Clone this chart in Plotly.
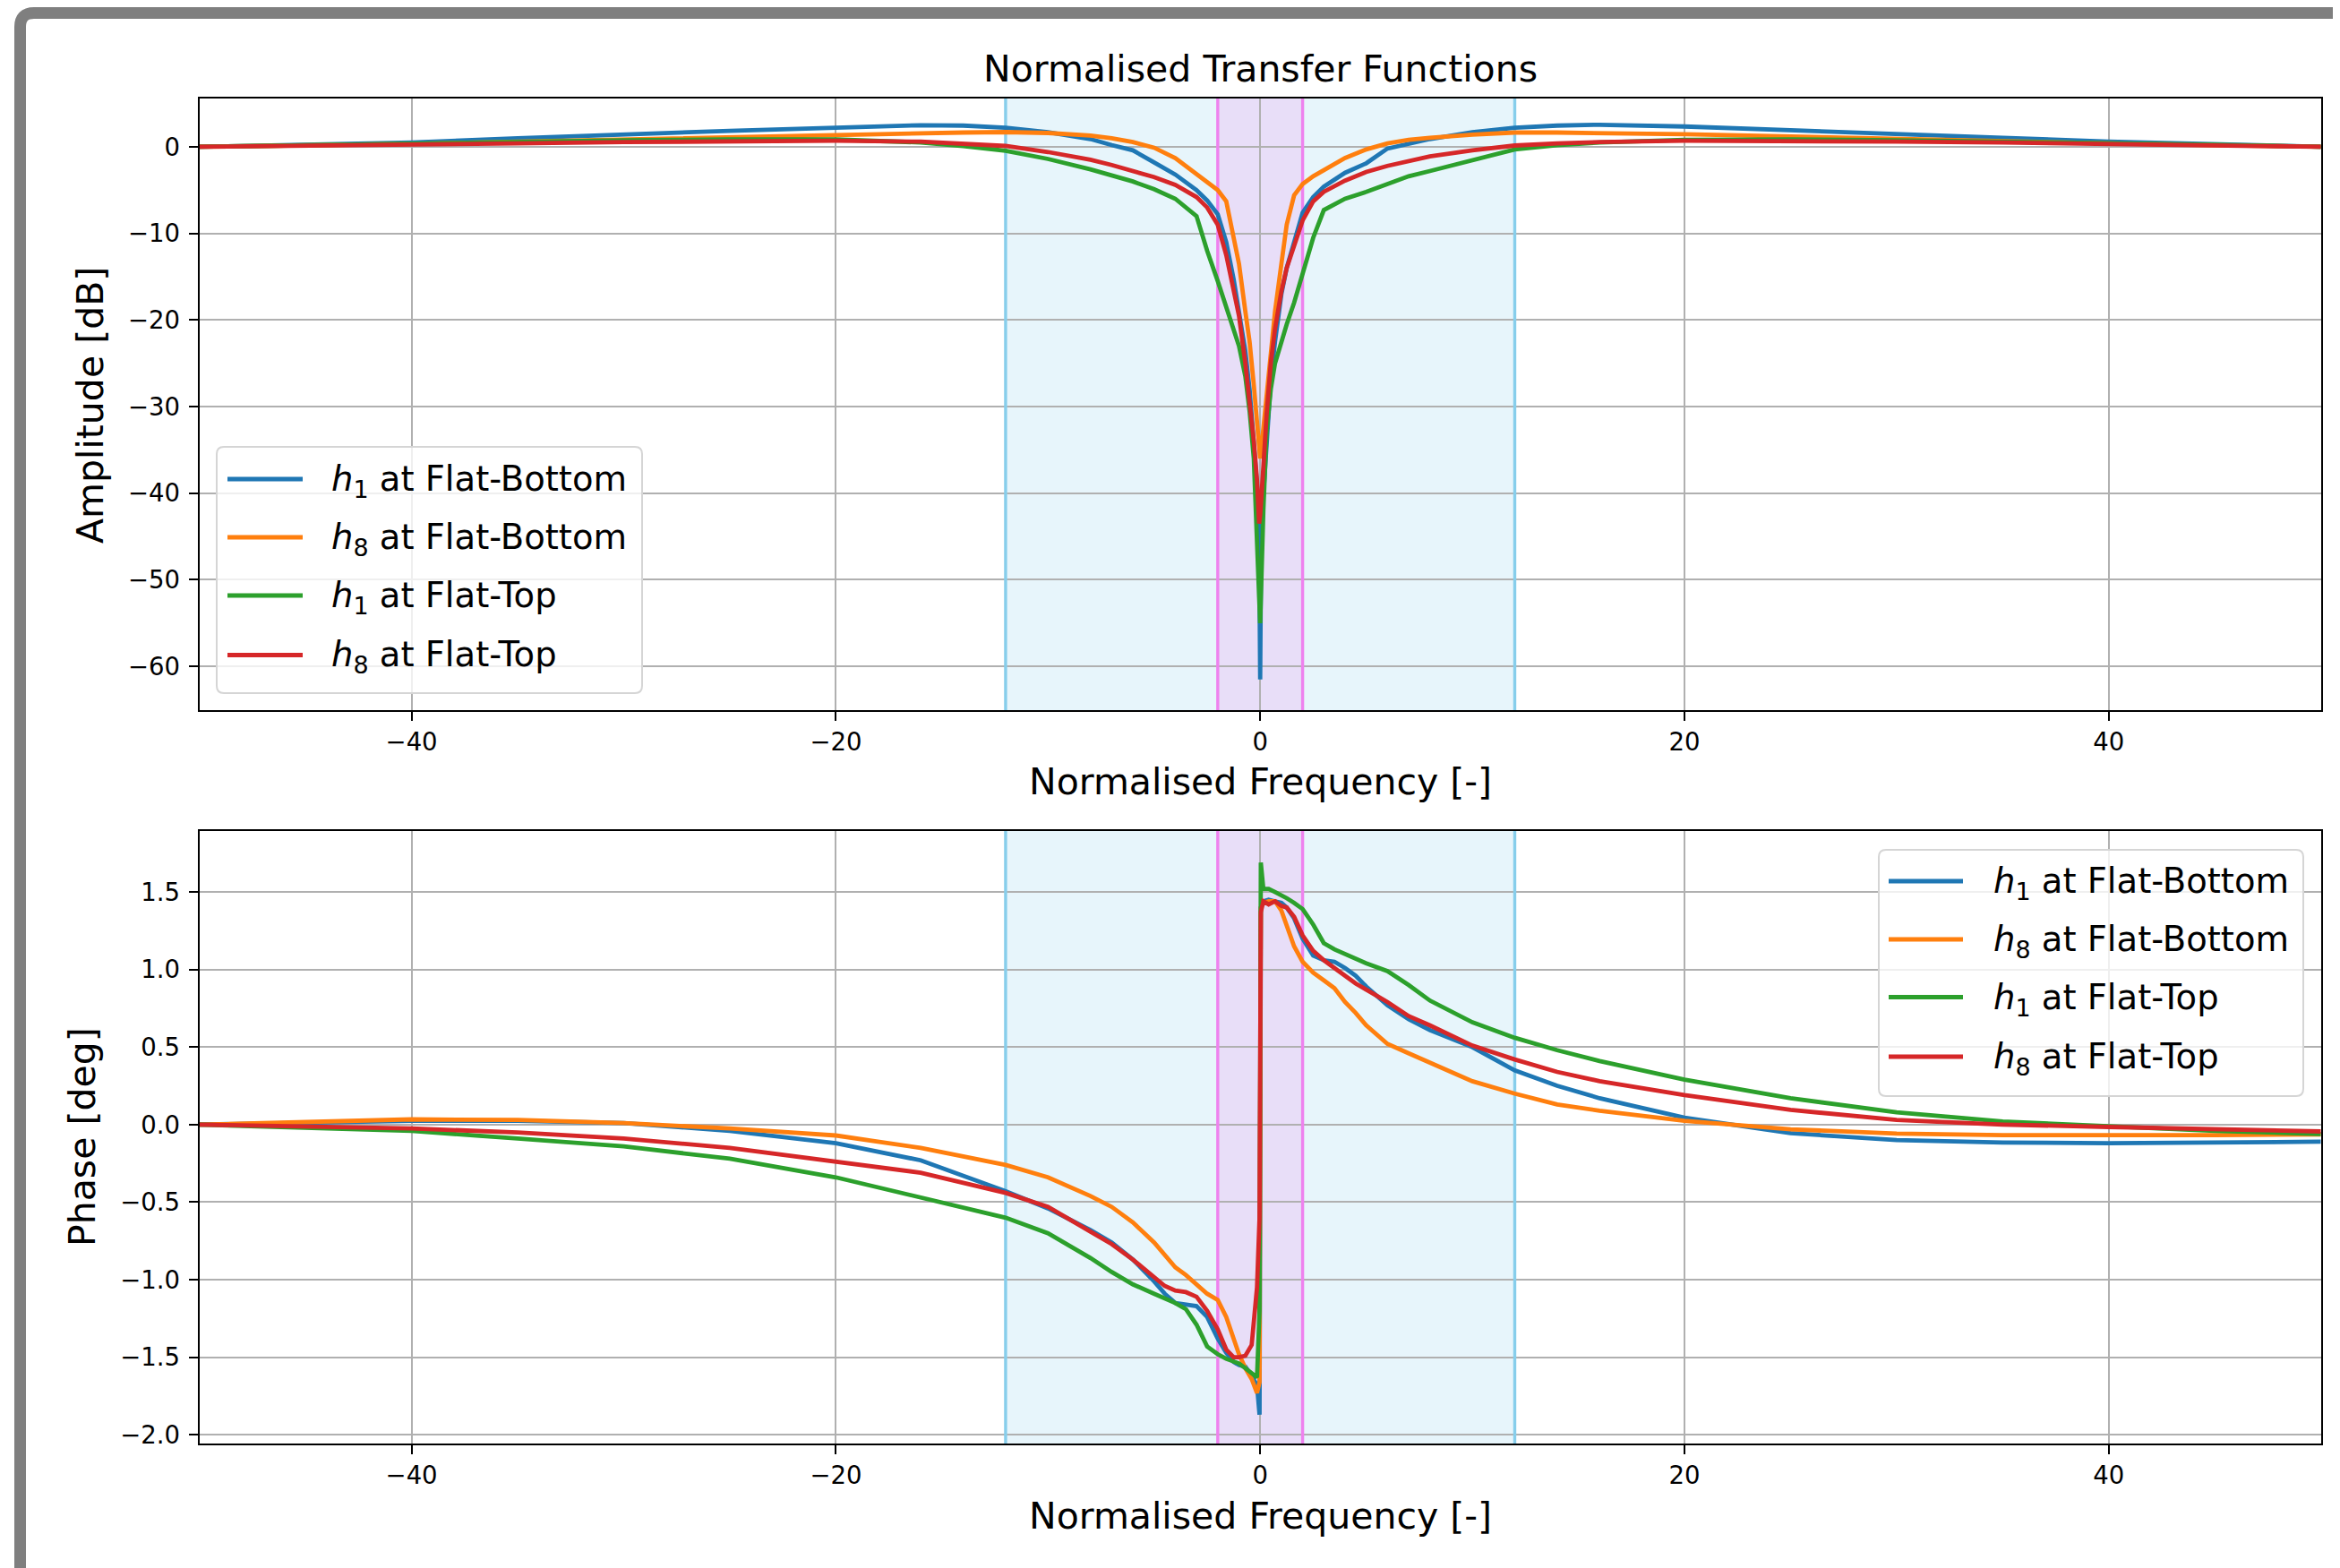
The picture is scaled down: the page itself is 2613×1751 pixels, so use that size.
import plotly.graph_objects as go

OFF = 8                      # default page margin of the html body
W, H = 2613 - OFF, 1751 - OFF
FONT = "DejaVu Sans"


def px(x):
    return (x - OFF) / W


def py(y):
    return 1 - (y - OFF) / H


# ---------------- data ----------------
x_amp = [-50, -45, -40, -35, -30, -25, -20, -16, -14, -12, -10, -8, -7, -6, -5, -4, -3,
         -2.5, -2, -1.6, -1.25, -1, -0.7, -0.5, -0.3, -0.15, -0.05, 0, 0.05, 0.15, 0.3,
         0.5, 0.7, 1, 1.25, 1.6, 2, 2.5, 3, 4, 5, 6, 7, 8, 10, 12, 14, 16, 20, 25, 30,
         35, 40, 45, 50]

amp_h1_fb = [0.0, 0.2, 0.5, 1.0, 1.45, 1.85, 2.2, 2.5, 2.45, 2.2, 1.7, 0.9, 0.2, -0.4,
             -1.8, -3.2, -5.0, -6.2, -7.8, -11.0, -15.3, -19.0, -23.6, -28.0, -33.5,
             -39.0, -45.0, -61.5, -44.0, -40.0, -34.0, -27.0, -22.5, -17.0, -14.0, -11.0,
             -7.6, -5.8, -4.6, -3.0, -1.9, -0.2, 0.35, 0.9, 1.7, 2.2, 2.45, 2.55, 2.35,
             1.95, 1.5, 1.05, 0.6, 0.25, 0.0]
amp_h8_fb = [0.0, 0.15, 0.35, 0.6, 0.85, 1.15, 1.45, 1.6, 1.65, 1.7, 1.6, 1.3, 1.0, 0.55,
             -0.1, -1.3, -3.2, -4.2, -5.0, -6.3, -10.5, -13.5, -19.0, -22.5, -27.5, -32.0,
             -35.0, -36.0, -35.0, -32.5, -28.5, -23.5, -19.0, -13.5, -9.0, -5.6, -4.3,
             -3.4, -2.7, -1.3, -0.3, 0.4, 0.8, 1.05, 1.4, 1.65, 1.65, 1.6, 1.45, 1.2, 0.9,
             0.65, 0.4, 0.2, 0.0]
amp_h1_ft = [0.0, 0.2, 0.4, 0.6, 0.75, 0.85, 0.85, 0.5, 0.1, -0.45, -1.4, -2.6, -3.3, -4.0,
             -4.9, -6.0, -8.0, -12.0, -15.5, -18.5, -21.0, -23.0, -26.5, -30.5, -36.0,
             -44.0, -52.0, -55.0, -49.0, -42.0, -33.0, -28.0, -25.0, -22.5, -20.5, -18.0,
             -14.8, -10.5, -7.3, -6.0, -5.2, -4.3, -3.4, -2.8, -1.5, -0.3, 0.2, 0.5, 0.8,
             0.85, 0.75, 0.6, 0.45, 0.25, 0.0]
amp_h8_ft = [0.0, 0.1, 0.25, 0.4, 0.55, 0.65, 0.7, 0.6, 0.35, 0.1, -0.6, -1.5, -2.1, -2.8,
             -3.5, -4.4, -5.8, -7.0, -9.0, -12.5, -16.5, -19.5, -25.0, -29.0, -34.0, -38.5,
             -43.5, -42.5, -40.0, -37.0, -31.0, -25.0, -21.0, -16.7, -14.0, -11.5, -8.5,
             -6.3, -5.2, -3.9, -2.9, -2.2, -1.6, -1.1, -0.4, 0.15, 0.4, 0.55, 0.7, 0.7, 0.6,
             0.5, 0.35, 0.15, 0.0]

x_phase = [-50, -45, -40, -35, -30, -25, -20, -16, -12, -10, -8, -7, -6, -5, -4.5, -4,
           -3.5, -3, -2.5, -2, -1.6, -1.25, -1, -0.7, -0.4, -0.15, -0.03, 0.03, 0.15, 0.4,
           0.7, 1, 1.25, 1.6, 2, 2.5, 3, 3.5, 4, 4.5, 5, 6, 7, 8, 10, 12, 14, 16, 20, 25,
           30, 35, 40, 45, 50]

ph_h1_fb = [0.00, 0.015, 0.025, 0.025, 0.01, -0.04, -0.12,
            -0.23, -0.43, -0.54, -0.68, -0.76, -0.87, -1.01,
            -1.09, -1.15, -1.16, -1.17, -1.24, -1.38,
            -1.47, -1.53, -1.55, -1.56, -1.62, -1.68, -1.87,
            1.40, 1.44, 1.45, 1.44, 1.43, 1.40, 1.33, 1.20,
            1.09, 1.06, 1.05, 1.01, 0.96, 0.89, 0.77, 0.68, 0.61,
            0.50, 0.35, 0.25, 0.17,
            0.045, -0.055, -0.10, -0.115, -0.12, -0.115, -0.11]
ph_h8_fb = [0.00, 0.02, 0.034, 0.03, 0.01, -0.025, -0.07,
            -0.15, -0.26, -0.34, -0.46, -0.53, -0.63, -0.76,
            -0.84, -0.92, -0.97, -1.03, -1.09, -1.13,
            -1.24, -1.38, -1.48, -1.57, -1.64, -1.73, -1.66,
            1.40, 1.43, 1.44, 1.44, 1.38, 1.28, 1.15, 1.05,
            0.98, 0.93, 0.88, 0.79, 0.72, 0.64, 0.52, 0.46, 0.40,
            0.28, 0.20, 0.13, 0.09,
            0.024, -0.03, -0.058, -0.068, -0.07, -0.068, -0.063]
ph_h1_ft = [0.00, -0.02, -0.04, -0.09, -0.14, -0.22, -0.34,
            -0.47, -0.60, -0.70, -0.86, -0.95, -1.03, -1.09,
            -1.12, -1.15, -1.19, -1.29, -1.43, -1.48,
            -1.51, -1.53, -1.54, -1.57, -1.60, -1.63, -1.20,
            1.69, 1.52, 1.52, 1.50, 1.48, 1.46, 1.43, 1.39,
            1.29, 1.17, 1.13, 1.10, 1.07, 1.04, 0.99, 0.90, 0.80,
            0.66, 0.56, 0.48, 0.41,
            0.29, 0.17, 0.08, 0.02, -0.01, -0.04, -0.06]
ph_h8_ft = [0.00, -0.01, -0.025, -0.05, -0.09, -0.15, -0.235,
            -0.31, -0.44, -0.53, -0.69, -0.77, -0.87, -0.98,
            -1.04, -1.07, -1.08, -1.11, -1.20, -1.32,
            -1.45, -1.50, -1.50, -1.49, -1.42, -1.05, -0.60,
            1.37, 1.44, 1.42, 1.44, 1.41, 1.40, 1.34, 1.22,
            1.12, 1.06, 1.01, 0.96, 0.91, 0.87, 0.79, 0.70, 0.64,
            0.51, 0.42, 0.34, 0.28,
            0.19, 0.095, 0.03, 0.0, -0.015, -0.03, -0.044]

series_names = ["<i>h</i><sub>1</sub> at Flat-Bottom",
                "<i>h</i><sub>8</sub> at Flat-Bottom",
                "<i>h</i><sub>1</sub> at Flat-Top",
                "<i>h</i><sub>8</sub> at Flat-Top"]
colors = ["#1f77b4", "#ff7f0e", "#2ca02c", "#d62728"]

amp_series = [amp_h1_fb, amp_h8_fb, amp_h1_ft, amp_h8_ft]
phase_series = [ph_h1_fb, ph_h8_fb, ph_h1_ft, ph_h8_ft]

band_outer = 12
band_inner = 2
x_range = [-50, 50]
amp_range = [-65.05, 5.58]
phase_range = [-2.056, 1.893]

title_text = "Normalised Transfer Functions"
xlabel = "Normalised Frequency [-]"
ylabel_amp = "Amplitude [dB]"
ylabel_phase = "Phase [deg]"

LW = 4.8

# ---------------- figure ----------------
fig = go.Figure()

# band edge lines (drawn first, below the data)
for xa, ya, yr in (("x", "y", amp_range), ("x2", "y2", phase_range)):
    for xv, col in ((-band_outer, "#87CEEB"), (band_outer, "#87CEEB"),
                    (-band_inner, "#EE82EE"), (band_inner, "#EE82EE")):
        fig.add_trace(go.Scatter(x=[xv, xv], y=[yr[0] - 1, yr[1] + 1], mode="lines",
                                 line=dict(color=col, width=3.4), showlegend=False,
                                 hoverinfo="skip", xaxis=xa, yaxis=ya))

for i, ys in enumerate(amp_series):
    fig.add_trace(go.Scatter(x=x_amp, y=ys, mode="lines", name=series_names[i],
                             line=dict(color=colors[i], width=LW),
                             xaxis="x", yaxis="y", showlegend=False))
for i, ys in enumerate(phase_series):
    fig.add_trace(go.Scatter(x=x_phase, y=ys, mode="lines", name=series_names[i],
                             line=dict(color=colors[i], width=LW),
                             xaxis="x2", yaxis="y2", showlegend=False))

x_dom = [px(222.7), px(2591.7)]
axis_common = dict(showgrid=True, gridcolor="#b0b0b0", gridwidth=2, zeroline=False,
                   showline=True, linecolor="black", linewidth=2.2, mirror=True,
                   ticks="outside", ticklen=10, tickwidth=2.2, tickcolor="black",
                   tickfont=dict(family=FONT, size=27.5, color="black"),
                   automargin=False)

fig.update_layout(
    width=W, height=H,
    margin=dict(l=0, r=0, t=0, b=0),
    paper_bgcolor="white", plot_bgcolor="white",
    font=dict(family=FONT, color="black"),
    showlegend=False,
    xaxis=dict(domain=x_dom, anchor="y", range=x_range, tick0=0, dtick=20, **axis_common),
    yaxis=dict(domain=[py(793), py(110)], anchor="x", range=amp_range, tick0=0,
               dtick=10, ticklabelstandoff=4, **axis_common),
    xaxis2=dict(domain=x_dom, anchor="y2", range=x_range, tick0=0, dtick=20, **axis_common),
    yaxis2=dict(domain=[py(1612), py(928)], anchor="x2", range=phase_range, tick0=0,
                dtick=0.5, tickformat=".1f", ticklabelstandoff=4, **axis_common),
)

shapes = []
for xa, ya in (("x", "y"), ("x2", "y2")):
    shapes.append(dict(type="rect", xref=xa, yref=f"{ya} domain", x0=-band_outer,
                       x1=band_outer, y0=0, y1=1, fillcolor="rgba(135,206,235,0.2)",
                       line=dict(width=0), layer="below"))
    shapes.append(dict(type="rect", xref=xa, yref=f"{ya} domain", x0=-band_inner,
                       x1=band_inner, y0=0, y1=1, fillcolor="rgba(238,130,238,0.2)",
                       line=dict(width=0), layer="below"))

annotations = [
    dict(text=title_text, x=px(1407), y=py(77)),
    dict(text=xlabel, x=px(1407), y=py(873)),
    dict(text=xlabel, x=px(1407), y=py(1693)),
    dict(text=ylabel_amp, x=px(101), y=py(452), textangle=-90),
    dict(text=ylabel_phase, x=px(92), y=py(1270), textangle=-90),
]
for a in annotations:
    a.update(xref="paper", yref="paper", showarrow=False, xanchor="center",
             yanchor="middle", font=dict(family=FONT, size=41, color="black"))


# legends (matplotlib-style boxes)
def rounded_box(x0, y0, x1, y1, r=8):
    X0, X1 = px(x0), px(x1)
    Y0, Y1 = py(y0), py(y1)
    rx, ry = r / W, r / H
    return (f"M {X0 + rx},{Y0} L {X1 - rx},{Y0} Q {X1},{Y0} {X1},{Y0 - ry} "
            f"L {X1},{Y1 + ry} Q {X1},{Y1} {X1 - rx},{Y1} L {X0 + rx},{Y1} "
            f"Q {X0},{Y1} {X0},{Y1 + ry} L {X0},{Y0 - ry} Q {X0},{Y0} {X0 + rx},{Y0} Z")


legend_specs = [
    dict(box=(242, 499, 717, 774), line_x=(254, 338), text_x=368,
         rows=(535, 600, 665, 731.5)),
    dict(box=(2098, 949, 2572, 1224), line_x=(2109, 2192), text_x=2224,
         rows=(984, 1049, 1113.5, 1180)),
]
for spec in legend_specs:
    bx0, by0, bx1, by1 = spec["box"]
    shapes.append(dict(type="path", xref="paper", yref="paper",
                       path=rounded_box(bx0, by0, bx1, by1),
                       fillcolor="rgba(255,255,255,0.8)",
                       line=dict(color="#d5d5d5", width=2), layer="above"))
    for i, ry in enumerate(spec["rows"]):
        shapes.append(dict(type="line", xref="paper", yref="paper",
                           x0=px(spec["line_x"][0]), x1=px(spec["line_x"][1]),
                           y0=py(ry), y1=py(ry),
                           line=dict(color=colors[i], width=LW), layer="above"))
        annotations.append(dict(text=series_names[i], x=px(spec["text_x"]), y=py(ry + 2),
                                xref="paper", yref="paper", showarrow=False,
                                xanchor="left", yanchor="middle",
                                font=dict(family=FONT, size=38.5, color="black")))

# outer grey frame (screenshot border)
fx, fy = px(22.5), py(14.5)
shapes.append(dict(type="path", xref="paper", yref="paper",
                   path=(f"M {fx},-0.05 L {fx},{py(30)} Q {fx},{fy} {px(38)},{fy} "
                         f"L 1.05,{fy}"),
                   line=dict(color="#7f7f7f", width=13), layer="above"))

fig.update_layout(shapes=shapes, annotations=annotations)

fig.write_html("out.html")
